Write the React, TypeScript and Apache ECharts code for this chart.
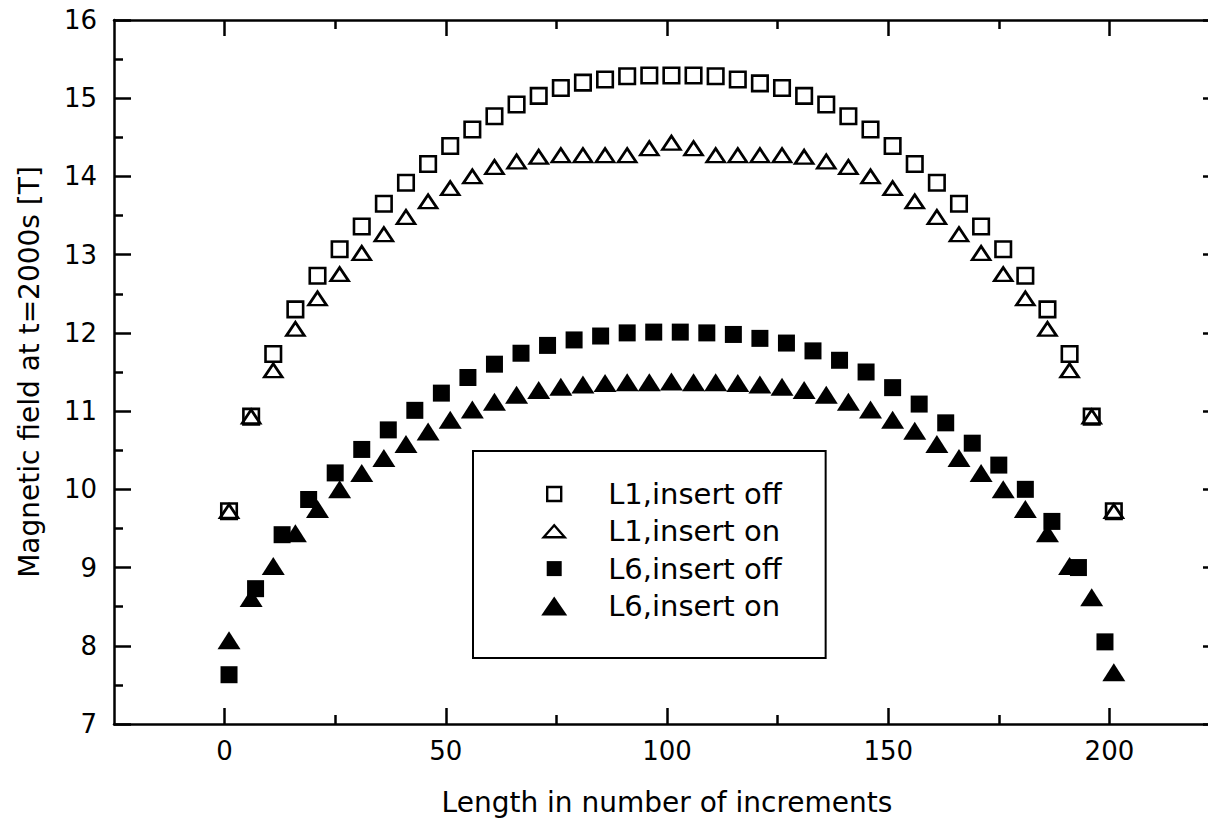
import React, { useEffect, useRef } from "react";
import * as echarts from "echarts";

// x positions (increments)
const xStep5 = [1, 6, 11, 16, 21, 26, 31, 36, 41, 46, 51, 56, 61, 66, 71, 76, 81, 86, 91, 96, 101, 106, 111, 116, 121, 126, 131, 136, 141, 146, 151, 156, 161, 166, 171, 176, 181, 186, 191, 196, 201];
const xStep6 = [1, 7, 13, 19, 25, 31, 37, 43, 49, 55, 61, 67, 73, 79, 85, 91, 97, 103, 109, 115, 121, 127, 133, 139, 145, 151, 157, 163, 169, 175, 181, 187, 193, 199];

// Magnetic field values [T]
const l1Off = [9.72, 10.93, 11.73, 12.3, 12.73, 13.07, 13.36, 13.65, 13.92, 14.16, 14.39, 14.6, 14.77, 14.92, 15.03, 15.13, 15.2, 15.24, 15.28, 15.29, 15.29, 15.29, 15.28, 15.24, 15.19, 15.13, 15.03, 14.92, 14.77, 14.6, 14.39, 14.16, 13.92, 13.65, 13.36, 13.07, 12.73, 12.3, 11.73, 10.93, 9.72];
const l1On = [9.72, 10.93, 11.52, 12.05, 12.44, 12.75, 13.02, 13.26, 13.48, 13.68, 13.85, 14.0, 14.12, 14.19, 14.25, 14.27, 14.27, 14.27, 14.27, 14.36, 14.43, 14.36, 14.27, 14.27, 14.27, 14.27, 14.25, 14.19, 14.12, 14.0, 13.85, 13.68, 13.48, 13.26, 13.02, 12.75, 12.44, 12.05, 11.52, 10.93, 9.72];
const l6Off = [7.63, 8.73, 9.42, 9.87, 10.21, 10.51, 10.76, 11.01, 11.23, 11.43, 11.6, 11.74, 11.84, 11.91, 11.96, 12.0, 12.01, 12.01, 12.0, 11.98, 11.93, 11.87, 11.77, 11.65, 11.5, 11.3, 11.09, 10.85, 10.59, 10.31, 10.0, 9.59, 9.0, 8.05];
const l6On = [8.07, 8.61, 9.02, 9.44, 9.75, 10.0, 10.21, 10.4, 10.58, 10.74, 10.89, 11.02, 11.12, 11.21, 11.27, 11.31, 11.34, 11.36, 11.37, 11.37, 11.38, 11.37, 11.37, 11.36, 11.34, 11.31, 11.27, 11.21, 11.12, 11.02, 10.89, 10.75, 10.58, 10.4, 10.21, 10.0, 9.75, 9.44, 9.02, 8.62, 7.66];

const seriesNames = ["L1,insert off", "L1,insert on", "L6,insert off", "L6,insert on"];
const xMajorTicks = [0, 50, 100, 150, 200];
const xMinorTicks = [25, 75, 125, 175];

const FONT = "'DejaVu Sans', sans-serif";
const BLACK = "#000";
const AXW = 2.5;

function pairs(xs: number[], ys: number[]) {
  return xs.map((x, i) => [x, ys[i]]);
}

const baseX = (position: string, major: boolean, withLabels: boolean) => ({
  type: "value",
  position,
  min: -25,
  max: 225,
  gridIndex: 0,
  axisLine: { show: major, onZero: false, lineStyle: { color: BLACK, width: AXW } },
  axisTick: {
    show: true,
    inside: true,
    length: major ? 16 : 9,
    customValues: major ? xMajorTicks : xMinorTicks,
    lineStyle: { color: BLACK, width: AXW },
  },
  axisLabel: withLabels
    ? { show: true, customValues: xMajorTicks, margin: 14, color: BLACK, fontSize: 26, fontFamily: FONT }
    : { show: false },
  splitLine: { show: false },
});

const baseY = (position: string, withLabels: boolean) => ({
  type: "value",
  position,
  min: 7,
  max: 16,
  interval: 1,
  axisLine: { show: true, onZero: false, lineStyle: { color: BLACK, width: AXW } },
  axisTick: { show: true, inside: true, length: 17, lineStyle: { color: BLACK, width: AXW } },
  minorTick: { show: true, splitNumber: 2, length: 9, lineStyle: { color: BLACK, width: AXW } },
  axisLabel: withLabels
    ? { show: true, margin: 17, color: BLACK, fontSize: 26, fontFamily: FONT }
    : { show: false },
  splitLine: { show: false },
  minorSplitLine: { show: false },
});

const anchors = "M0,0L0,0M26,20L26,20";
const legendIcons = [
  "path://" + anchors + "M6,3H20V17H6Z",
  "path://" + anchors + "M13,4L23.5,16L2.5,16Z",
  "path://" + anchors + "M5.5,2.5H20.5V17.5H5.5Z",
  "path://" + anchors + "M13,0.5L26,19.5L0,19.5Z",
];

export default function App() {
  const ref = useRef<HTMLDivElement>(null);
  useEffect(() => {
    const chart = echarts.init(ref.current!, null, { renderer: "svg" });
    const xMain: any = {
      ...baseX("bottom", true, true),
      name: "Length in number of increments",
      nameLocation: "middle",
      nameGap: 64,
      nameTextStyle: { color: BLACK, fontSize: 28, fontFamily: FONT },
    };
    const yMain: any = {
      ...baseY("left", true),
      name: "Magnetic field at t=2000s [T]",
      nameLocation: "middle",
      nameRotate: 90,
      nameGap: 71,
      nameTextStyle: { color: BLACK, fontSize: 28, fontFamily: FONT },
    };
    const option: any = {
      animation: false,
      backgroundColor: "#fff",
      textStyle: { fontFamily: FONT },
      grid: { left: 114, top: 20, width: 1106, height: 706, containLabel: false },
      xAxis: [
        xMain,
        baseX("bottom", false, false),
        baseX("top", true, false),
        baseX("top", false, false),
      ],
      yAxis: [yMain, baseY("right", false)],
      legend: {
        show: true,
        orient: "vertical",
        left: 473,
        top: 451,
        itemWidth: 26,
        itemHeight: 20,
        itemGap: 7.3,
        padding: [28, 44, 37, 67],
        borderColor: BLACK,
        borderWidth: 2,
        backgroundColor: "#fff",
        selectedMode: false,
        textStyle: {
          color: BLACK,
          fontSize: 29,
          fontFamily: FONT,
          lineHeight: 30,
          padding: [0, 0, 0, 36],
        },
        data: [
          { name: seriesNames[0], icon: legendIcons[0], itemStyle: { borderWidth: 2.4, color: "rgba(0,0,0,0)", borderColor: BLACK, opacity: 1 } },
          { name: seriesNames[1], icon: legendIcons[1], itemStyle: { borderWidth: 2.4, color: "rgba(0,0,0,0)", borderColor: BLACK, opacity: 1 } },
          { name: seriesNames[2], icon: legendIcons[2], itemStyle: { borderWidth: 0, color: BLACK, opacity: 1 } },
          { name: seriesNames[3], icon: legendIcons[3], itemStyle: { borderWidth: 0, color: BLACK, opacity: 1 } },
        ],
      },
      series: [
        {
          type: "scatter",
          name: seriesNames[2],
          xAxisIndex: 0,
          yAxisIndex: 0,
          data: pairs(xStep6, l6Off),
          symbol: "rect",
          symbolSize: 17,
          itemStyle: { color: BLACK, borderWidth: 0, opacity: 1 },
        },
        {
          type: "scatter",
          name: seriesNames[3],
          xAxisIndex: 0,
          yAxisIndex: 0,
          data: pairs(xStep5, l6On),
          symbol: "triangle",
          symbolSize: [23, 18],
          itemStyle: { color: BLACK, borderWidth: 0, opacity: 1 },
        },
        {
          type: "scatter",
          name: seriesNames[0],
          xAxisIndex: 0,
          yAxisIndex: 0,
          data: pairs(xStep5, l1Off),
          symbol: "rect",
          symbolSize: 15.5,
          itemStyle: { color: "rgba(0,0,0,0)", borderColor: BLACK, borderWidth: 2.6, opacity: 1 },
        },
        {
          type: "scatter",
          name: seriesNames[1],
          xAxisIndex: 0,
          yAxisIndex: 0,
          data: pairs(xStep5, l1On),
          symbol: "triangle",
          symbolSize: [18, 13.5],
          itemStyle: { color: "rgba(0,0,0,0)", borderColor: BLACK, borderWidth: 2.6, opacity: 1 },
        },
      ],
    };
    chart.setOption(option);
    return () => chart.dispose();
  }, []);
  return (
    <div
      ref={ref}
      style={{ position: "fixed", left: 0, top: 0, width: 1240, height: 821, background: "#fff", overflow: "hidden" }}
    />
  );
}
